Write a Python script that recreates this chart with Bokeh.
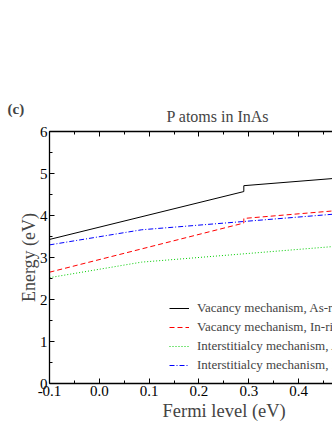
from bokeh.plotting import figure
from bokeh.models import (LinearAxis, FixedTicker, Legend, LegendItem, Range1d, Title)
from bokeh.embed import file_html
from bokeh.resources import INLINE

# ---- data ----
x_vac = [-0.1, 0.29, 0.29, 0.5]
y_vac_as = [3.43, 4.57, 4.71, 4.91]
y_vac_in = [2.65, 3.82, 3.93, 4.14]
x_int = [-0.1, 0.085, 0.5]
y_int_as = [2.52, 2.89, 3.29]
y_int_in = [3.30, 3.66, 4.06]

labels = ["Vacancy mechanism, As-rich", "Vacancy mechanism, In-rich",
          "Interstitialcy mechanism, As-rich", "Interstitialcy mechanism, In-rich"]

x_ticks = [-0.1, 0.0, 0.1, 0.2, 0.3, 0.4, 0.5]
x_tick_labels = ["-0.1", "0.0", "0.1", "0.2", "0.3", "0.4", "0.5"]
x_minor = [-0.05, 0.05, 0.15, 0.25, 0.35, 0.45]
y_ticks = [0, 1, 2, 3, 4, 5, 6]
y_minor = [0.5, 1.5, 2.5, 3.5, 4.5, 5.5]

FONT = "Liberation Serif"

p = figure(frame_width=283, frame_height=252, output_backend="svg",
           toolbar_location=None, x_range=Range1d(-0.1, 0.468), y_range=Range1d(0, 6),
           min_border_left=49, min_border_right=0, min_border_top=131, min_border_bottom=47,
           x_axis_location=None, y_axis_location=None)
p.outline_line_color = None
p.xgrid.visible = False
p.ygrid.visible = False
p.background_fill_color = "white"
p.border_fill_color = "white"


def style_axis(ax, ticks, minor, show_labels=True):
    ax.ticker = FixedTicker(ticks=ticks, minor_ticks=minor)
    ax.major_tick_in = 5
    ax.major_tick_out = 0
    ax.minor_tick_in = 3
    ax.minor_tick_out = 0
    ax.axis_line_width = 1.3
    ax.major_tick_line_width = 1
    ax.minor_tick_line_width = 1
    ax.axis_line_color = "black"
    ax.major_label_text_font = FONT
    ax.major_label_text_font_size = "15px"
    ax.major_label_text_color = "black"
    ax.major_label_standoff = 2
    if not show_labels:
        ax.major_label_text_font_size = "0px"
        ax.major_label_standoff = 0


xb = LinearAxis()
style_axis(xb, x_ticks, x_minor)
xb.major_label_overrides = {t: s for t, s in zip(x_ticks, x_tick_labels)}
p.add_layout(xb, "below")

xt = LinearAxis()
style_axis(xt, x_ticks, x_minor, show_labels=False)
p.add_layout(xt, "above")

yl = LinearAxis()
style_axis(yl, y_ticks, y_minor)
yl.axis_label = "Energy (eV)"
yl.axis_label_text_font = FONT
yl.axis_label_text_font_size = "18px"
yl.axis_label_text_font_style = "normal"
yl.axis_label_standoff = -2
p.add_layout(yl, "left")

r1 = p.line(x_vac, y_vac_as, line_color="black", line_width=1)
r2 = p.line(x_vac, y_vac_in, line_color="#ff0000", line_width=1, line_dash="5 3")
r3 = p.line(x_int, y_int_as, line_color="#00cc00", line_width=1, line_dash="1 2")
r4 = p.line(x_int, y_int_in, line_color="#0000ff", line_width=1, line_dash="5 2 1 2")

items = [LegendItem(label=labels[0], renderers=[r1]),
         LegendItem(label=labels[1], renderers=[r2]),
         LegendItem(label=labels[2], renderers=[r3]),
         LegendItem(label=labels[3], renderers=[r4])]
legend = Legend(items=items,
                location=(120, 10), border_line_color=None, background_fill_alpha=0,
                padding=0, margin=0, spacing=3, glyph_width=20, glyph_height=16,
                label_height=16, label_standoff=8,
                label_text_font=FONT, label_text_font_size="13px")
p.add_layout(legend, "center")

t_main = Title(text="P atoms in InAs", align="left", offset=117, standoff=14,
               text_font=FONT, text_font_size="16px", text_font_style="normal")
p.add_layout(t_main, "above")
t_c = Title(text="(c)", align="left", offset=-42, standoff=-36,
            text_font=FONT, text_font_size="15px", text_font_style="bold")
p.add_layout(t_c, "above")
t_x = Title(text="Fermi level (eV)", align="left", offset=113, standoff=0,
            text_font=FONT, text_font_size="18.5px", text_font_style="normal")
p.add_layout(t_x, "below")

open("out.html", "w").write(file_html(p, INLINE))
